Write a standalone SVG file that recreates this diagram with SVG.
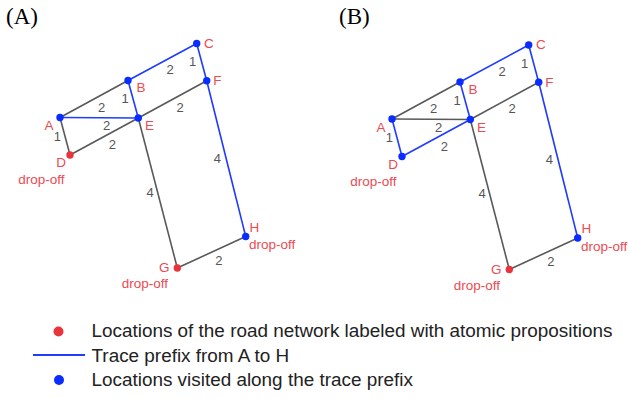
<svg xmlns="http://www.w3.org/2000/svg" width="629" height="399" viewBox="0 0 629 399">
<style>
.g{stroke:#595959;stroke-width:1.6;fill:none}
.b{stroke:#1f3cff;stroke-width:1.6;fill:none}
.rd{fill:#e8343a}
.bd{fill:#0a2cff}
.nl{font-family:"Liberation Sans",Arial,sans-serif;font-size:13.5px;fill:#ee4a52}
.el{font-family:"Liberation Sans",Arial,sans-serif;font-size:13px;fill:#555;text-anchor:middle}
.pl{font-family:"Liberation Serif","Times New Roman",serif;font-size:23px;fill:#000}
.lg{font-family:"Liberation Sans",Arial,sans-serif;font-size:18.9px;fill:#222}
</style>
<rect width="629" height="399" fill="#fff"/>
<text class="pl" x="6" y="24">(A)</text>
<text class="pl" x="339" y="24">(B)</text>

<g id="panelA">
  <g id="connectorsA">
    <line class="g" x1="60" y1="117.5" x2="128" y2="80.5"/>
    <line class="g" x1="60" y1="117.5" x2="70" y2="155"/>
    <line class="g" x1="70" y1="155" x2="138.3" y2="118"/>
    <line class="g" x1="138.3" y1="118" x2="206.7" y2="80.7"/>
    <line class="g" x1="138.3" y1="118" x2="177.3" y2="268"/>
    <line class="g" x1="177.3" y1="268" x2="245.7" y2="236.5"/>
    <line class="b" x1="60" y1="117.5" x2="138.3" y2="118"/>
    <line class="b" x1="128" y1="80.5" x2="138.3" y2="118"/>
    <line class="b" x1="128" y1="80.5" x2="196.7" y2="43.5"/>
    <line class="b" x1="196.7" y1="43.5" x2="206.7" y2="80.7"/>
    <line class="b" x1="206.7" y1="80.7" x2="245.7" y2="236.5"/>
    <text class="el" x="101.7" y="111.7">2</text>
    <text class="el" x="125" y="103.3">1</text>
    <text class="el" x="106.7" y="130">2</text>
    <text class="el" x="112.3" y="149.3">2</text>
    <text class="el" x="57.3" y="140.5">1</text>
    <text class="el" x="170" y="74">2</text>
    <text class="el" x="192.7" y="66">1</text>
    <text class="el" x="180" y="111.7">2</text>
    <text class="el" x="217.3" y="162.7">4</text>
    <text class="el" x="150" y="196.7">4</text>
    <text class="el" x="218.8" y="264.7">2</text>
  </g>
  <g id="a-A"><circle class="bd" cx="60" cy="117.5" r="3.7"/><text class="nl" x="44.5" y="130">A</text></g>
  <g id="a-B"><circle class="bd" cx="128" cy="80.5" r="3.7"/><text class="nl" x="136.5" y="92.3">B</text></g>
  <g id="a-C"><circle class="bd" cx="196.7" cy="43.5" r="3.7"/><text class="nl" x="204" y="47.5">C</text></g>
  <g id="a-F"><circle class="bd" cx="206.7" cy="80.7" r="3.7"/><text class="nl" x="213.3" y="85">F</text></g>
  <g id="a-E"><circle class="bd" cx="138.3" cy="118" r="3.7"/><text class="nl" x="145" y="130">E</text></g>
  <g id="a-D"><circle class="rd" cx="70" cy="155" r="3.7"/><text class="nl" x="56.3" y="167.3">D</text><text class="nl" x="18.3" y="184">drop-off</text></g>
  <g id="a-G"><circle class="rd" cx="177.3" cy="268" r="3.7"/><text class="nl" x="159" y="272.3">G</text><text class="nl" x="121.7" y="288.3">drop-off</text></g>
  <g id="a-H"><circle class="bd" cx="245.7" cy="236.5" r="3.7"/><text class="nl" x="249.5" y="231.7">H</text><text class="nl" x="249" y="249.3">drop-off</text></g>
</g>

<g id="panelB" transform="translate(332,1.5)">
  <g id="connectorsB">
    <line class="g" x1="60" y1="117.5" x2="128" y2="80.5"/>
    <line class="g" x1="60" y1="117.5" x2="138.3" y2="118"/>
    <line class="g" x1="138.3" y1="118" x2="206.7" y2="80.7"/>
    <line class="g" x1="138.3" y1="118" x2="177.3" y2="268"/>
    <line class="g" x1="177.3" y1="268" x2="245.7" y2="236.5"/>
    <line class="b" x1="60" y1="117.5" x2="70" y2="155"/>
    <line class="b" x1="70" y1="155" x2="138.3" y2="118"/>
    <line class="b" x1="128" y1="80.5" x2="138.3" y2="118"/>
    <line class="b" x1="128" y1="80.5" x2="196.7" y2="43.5"/>
    <line class="b" x1="196.7" y1="43.5" x2="206.7" y2="80.7"/>
    <line class="b" x1="206.7" y1="80.7" x2="245.7" y2="236.5"/>
    <text class="el" x="101.7" y="111.7">2</text>
    <text class="el" x="125" y="103.3">1</text>
    <text class="el" x="106.7" y="130">2</text>
    <text class="el" x="112.3" y="149.3">2</text>
    <text class="el" x="57.3" y="140.5">1</text>
    <text class="el" x="170" y="74">2</text>
    <text class="el" x="192.7" y="66">1</text>
    <text class="el" x="180" y="111.7">2</text>
    <text class="el" x="217.3" y="162.7">4</text>
    <text class="el" x="150" y="196.7">4</text>
    <text class="el" x="218.8" y="264.7">2</text>
  </g>
  <g id="b-A"><circle class="bd" cx="60" cy="117.5" r="3.7"/><text class="nl" x="44.5" y="130">A</text></g>
  <g id="b-B"><circle class="bd" cx="128" cy="80.5" r="3.7"/><text class="nl" x="136.5" y="92.3">B</text></g>
  <g id="b-C"><circle class="bd" cx="196.7" cy="43.5" r="3.7"/><text class="nl" x="204" y="47.5">C</text></g>
  <g id="b-F"><circle class="bd" cx="206.7" cy="80.7" r="3.7"/><text class="nl" x="213.3" y="85">F</text></g>
  <g id="b-E"><circle class="bd" cx="138.3" cy="118" r="3.7"/><text class="nl" x="145" y="130">E</text></g>
  <g id="b-D"><circle class="bd" cx="70" cy="155" r="3.7"/><text class="nl" x="56.3" y="167.3">D</text><text class="nl" x="18.3" y="184">drop-off</text></g>
  <g id="b-G"><circle class="rd" cx="177.3" cy="268" r="3.7"/><text class="nl" x="159" y="272.3">G</text><text class="nl" x="121.7" y="288.3">drop-off</text></g>
  <g id="b-H"><circle class="bd" cx="245.7" cy="236.5" r="3.7"/><text class="nl" x="249.5" y="231.7">H</text><text class="nl" x="249" y="249.3">drop-off</text></g>
</g>

<g id="legend">
  <circle class="rd" cx="58.5" cy="331.5" r="5"/>
  <text class="lg" x="91.5" y="336.7">Locations of the road network labeled with atomic propositions</text>
  <line x1="33" y1="355" x2="85" y2="355" stroke="#1f3cff" stroke-width="2"/>
  <text class="lg" x="91.5" y="361.7">Trace prefix from A to H</text>
  <circle class="bd" cx="59" cy="380" r="5"/>
  <text class="lg" x="91.5" y="386">Locations visited along the trace prefix</text>
</g>
</svg>
